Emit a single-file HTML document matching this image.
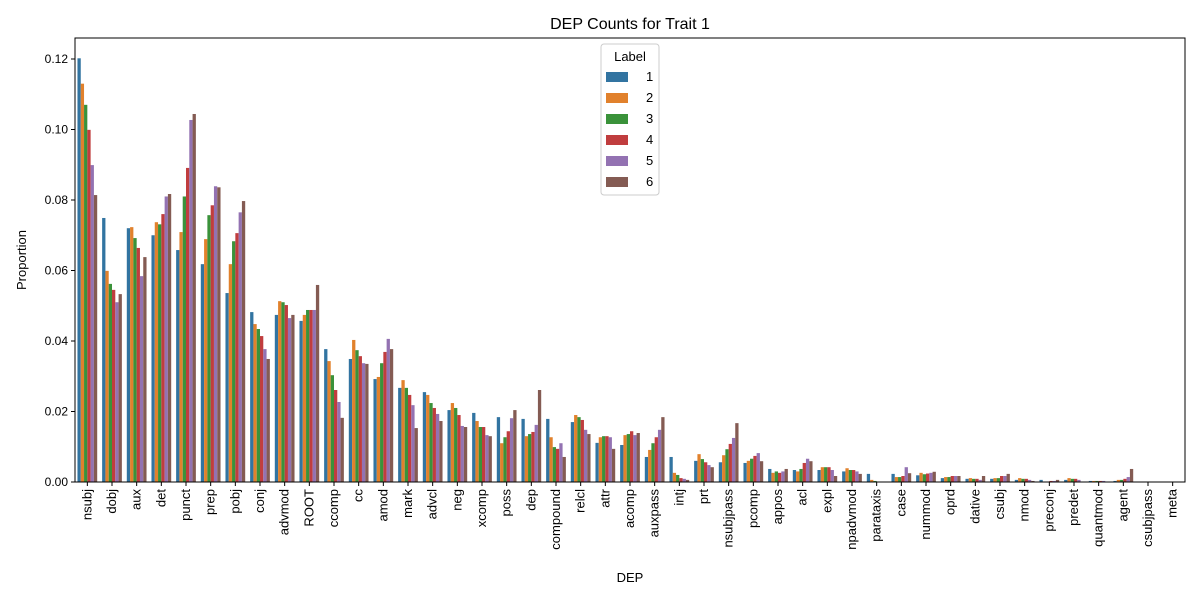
<!DOCTYPE html>
<html><head><meta charset="utf-8"><style>
body{margin:0;background:#fff}
svg{font-family:"Liberation Sans","DejaVu Sans",sans-serif}
</style></head><body>
<svg id="chart" width="1200" height="600" xmlns="http://www.w3.org/2000/svg">
<text x="630" y="29" font-size="16" text-anchor="middle">DEP Counts for Trait 1</text>
<g id="bars"></g>
<g id="axes"></g>
<text x="630" y="582" font-size="13" text-anchor="middle">DEP</text>
<text transform="translate(26,260) rotate(-90)" font-size="13" text-anchor="middle">Proportion</text>
<g id="legend"></g>
</svg>
<script>
const categories=["nsubj","dobj","aux","det","punct","prep","pobj","conj","advmod","ROOT","ccomp","cc","amod","mark","advcl","neg","xcomp","poss","dep","compound","relcl","attr","acomp","auxpass","intj","prt","nsubjpass","pcomp","appos","acl","expl","npadvmod","parataxis","case","nummod","oprd","dative","csubj","nmod","preconj","predet","quantmod","agent","csubjpass","meta"];
const seriesLabels=["1","2","3","4","5","6"];
const s1=[0.1202,0.0749,0.072,0.070,0.0658,0.0618,0.0536,0.0482,0.0474,0.0457,0.0377,0.0349,0.0292,0.0267,0.0255,0.0204,0.0196,0.0184,0.0179,0.0179,0.017,0.0111,0.0105,0.0071,0.0071,0.006,0.0056,0.0054,0.0037,0.0034,0.0034,0.003,0.0023,0.0023,0.0019,0.0011,0.0009,0.0009,0.0006,0.0006,0.0006,0.0003,0.0003,0,0];
const s2=[0.113,0.0599,0.0723,0.0737,0.0709,0.0689,0.0618,0.0448,0.0513,0.0474,0.0343,0.0403,0.0298,0.0289,0.0247,0.0224,0.0173,0.011,0.013,0.0127,0.019,0.0127,0.0133,0.0091,0.0026,0.0079,0.0076,0.006,0.0026,0.003,0.0042,0.0039,0.0006,0.0014,0.0026,0.0014,0.0011,0.0011,0.0011,0,0.0011,0.0003,0.0006,0,0];
const s3=[0.107,0.0562,0.0692,0.0731,0.081,0.0757,0.0683,0.0434,0.051,0.0488,0.0303,0.0374,0.0337,0.0267,0.0224,0.021,0.0156,0.0127,0.0136,0.0099,0.0184,0.013,0.0136,0.011,0.002,0.0065,0.0093,0.0066,0.003,0.0037,0.0042,0.0034,0.0003,0.0014,0.0022,0.0014,0.0009,0.0011,0.0009,0,0.0009,0.0003,0.0006,0,0];
const s4=[0.0999,0.0545,0.0664,0.076,0.0891,0.0785,0.0706,0.0414,0.0502,0.0488,0.0261,0.0357,0.0369,0.0247,0.021,0.019,0.0156,0.0144,0.0142,0.0094,0.0176,0.013,0.0144,0.0127,0.0011,0.0056,0.0108,0.0074,0.0026,0.0054,0.0042,0.0034,0,0.0017,0.0024,0.0017,0.0009,0.0017,0.0009,0.0003,0.0009,0.0003,0.0009,0,0];
const s5=[0.0899,0.051,0.0584,0.081,0.1027,0.0839,0.0765,0.0377,0.0465,0.0488,0.0227,0.0337,0.0406,0.0218,0.0193,0.0159,0.0133,0.0181,0.0162,0.011,0.0148,0.0127,0.0133,0.0148,0.0009,0.0048,0.0125,0.0082,0.003,0.0066,0.0034,0.003,0,0.0042,0.0026,0.0017,0.0006,0.0017,0.0006,0.0003,0.0006,0.0003,0.0014,0,0];
const s6=[0.0814,0.0533,0.0638,0.0817,0.1044,0.0836,0.0797,0.0349,0.0474,0.0559,0.0182,0.0335,0.0377,0.0153,0.0173,0.0156,0.013,0.0204,0.0261,0.0071,0.0136,0.0094,0.0139,0.0184,0.0006,0.0042,0.0167,0.0059,0.0037,0.0059,0.0017,0.0023,0,0.0025,0.0029,0.0017,0.0017,0.0023,0.0003,0.0006,0,0,0.0037,0,0];
const yTicks=[0,0.02,0.04,0.06,0.08,0.10,0.12];
const yTickLabels=["0.00","0.02","0.04","0.06","0.08","0.10","0.12"];
const colors=["#3274a1","#e1812c","#3a923a","#c03d3e","#9372b2","#845b53"];
const series=[s1,s2,s3,s4,s5,s6];
const L=75,R=1185,T=38,B=482;
const NS="http://www.w3.org/2000/svg";
const step=(R-L)/categories.length;
function xPos(i){return L+step*(i+0.5);}
function yPos(v){return B-v*3525;}
function mk(tag,attrs,parent){const e=document.createElementNS(NS,tag);for(const k in attrs)e.setAttribute(k,attrs[k]);parent.appendChild(e);return e;}
const bars=document.getElementById('bars'),axes=document.getElementById('axes'),legend=document.getElementById('legend');
const bw=step*0.8/6;
series.forEach((s,si)=>{s.forEach((v,i)=>{
 const x=xPos(i)-step*0.4+si*bw;
 const r=mk('rect',{x:x,y:yPos(v),width:bw,height:Math.max(0,B-yPos(v)),fill:colors[si]},bars);
 
 
});});
const frame=mk('rect',{x:L,y:T,width:R-L,height:B-T,fill:'none',stroke:'#000','stroke-width':1},axes);


yTicks.forEach((t,i)=>{
 const y=yPos(t);
 mk('line',{x1:L-4,x2:L,y1:y,y2:y,stroke:'#000'},axes);
 const tx=mk('text',{x:L-7,y:y+4,'font-size':12,'text-anchor':'end'},axes);
 tx.textContent=yTickLabels[i];
 
 
});
categories.forEach((c,i)=>{
 const x=xPos(i);
 mk('line',{x1:x,x2:x,y1:B,y2:B+4,stroke:'#000'},axes);
 const tx=mk('text',{transform:`translate(${x+4},${B+7}) rotate(-90)`,'font-size':13,'text-anchor':'end'},axes);
 tx.textContent=c;
 
 
});
const lb=mk('rect',{x:601,y:44,width:58,height:151,fill:'#fff','fill-opacity':0.8,stroke:'#ccc',rx:3},legend);


const lt=mk('text',{x:630,y:61,'font-size':13,'text-anchor':'middle'},legend);
lt.textContent='Label';


seriesLabels.forEach((s,i)=>{
 const y=77+i*21;
 const g=mk('g',{},legend);
 
 
 mk('rect',{x:606,y:y-5,width:22,height:10,fill:colors[i]},g);
 const t=mk('text',{x:646,y:y+4,'font-size':13},g);
 t.textContent=s;
});
</script>
</body></html>
